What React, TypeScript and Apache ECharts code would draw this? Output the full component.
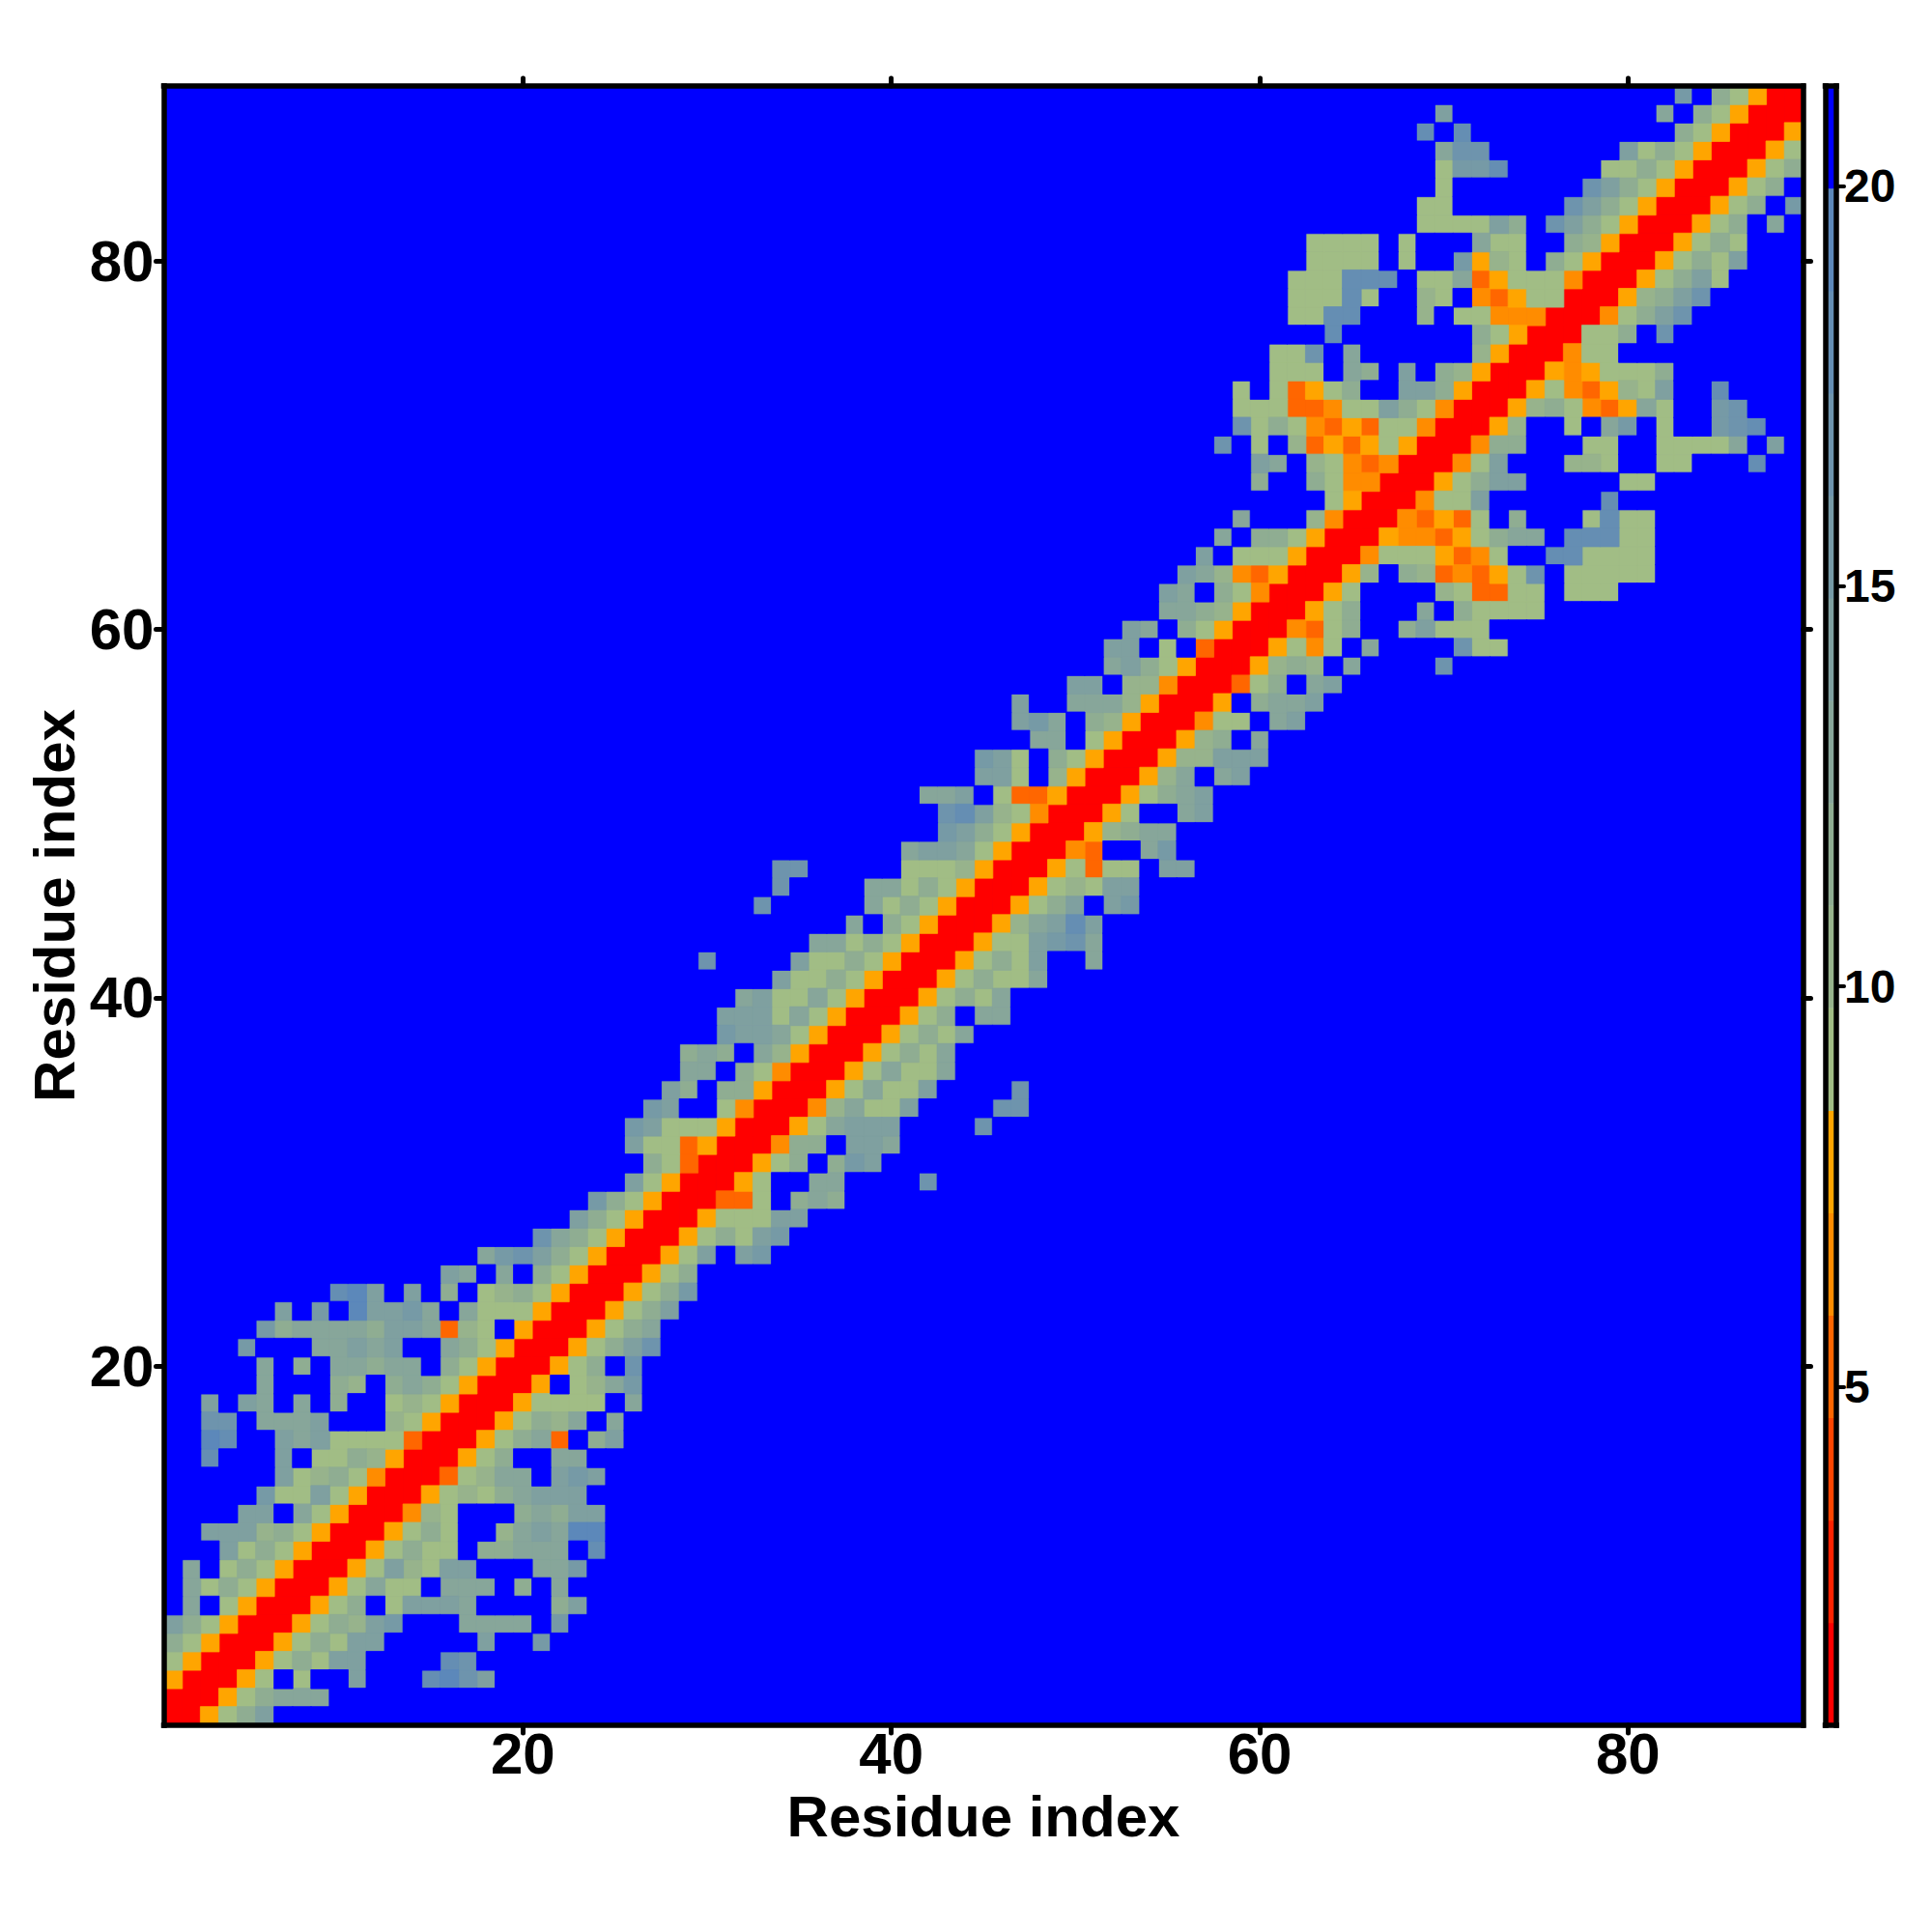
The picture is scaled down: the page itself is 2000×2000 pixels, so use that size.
import React, { useEffect, useRef } from "react";
import * as echarts from "echarts";

const FONT = "'Liberation Sans', Arial, Helvetica, sans-serif";

// Symmetric residue distance map. Row j (1-based) starts at column x = j.
const contactRows: string[] = [
  "RROace",
  "RROacddd",
  "RROa.a..e...hige",
  "RROacaee....hg",
  "RROacaee.....e..f",
  "RROacbef...dddd.f",
  "RROac.aeeed....ce",
  "RROadaa.ddd.c.d",
  "RROaebaee...ddf",
  "RROacaa.ccddd.h",
  "RROaca..bdedii",
  "RRNba...cdcee",
  "RROabacdeee",
  "RRMabdd.efe",
  "RROac..dd",
  "RROacdM.ce",
  "RROacbd.d",
  "RROaaaa.d",
  "RRO.abdf",
  "RROac.g",
  "RROaceg",
  "RROacd",
  "RROace",
  "RROacf",
  "RROac",
  "RROae.ef",
  "RROacaef",
  "RROaaaee",
  "RRMMa.cdc",
  "RROa..dd....g",
  "RROac.cfe",
  "RRNcc.eed",
  "RROadeee....g",
  "RRNbdaae....gg",
  "RROadaae....g",
  "RROadaad",
  "RROacad",
  "RROacad",
  "RROac.dd",
  "RROacad",
  "RROacaad",
  "RROacae..d",
  "RROaaefgd",
  "RRObdehe",
  "RROace.ef",
  "RROabaee",
  "RROaMaa.ee",
  "RRNM..df",
  "RRObcdd",
  "RROa..de",
  "RROacde",
  "RRObd.de",
  "RRObbeee",
  "RRObc.d",
  "RRNaa.de",
  "RRO.cdde",
  "RRMac.de",
  "RRObcb.d....g",
  "RROaNa.d....gaa",
  "RRNMac..ceaaa",
  "RROac...d.caaaa",
  "RROa....baMMaa.aaa",
  "RROb.cbMNMOag.aaaaa",
  "RRNaaaOMNa..hhaaaa",
  "RRONNMOacdd.hhhaa",
  "RRNMOMa.c...ahaa",
  "RRNaae......h",
  "RROacee.....aa",
  "RRNae...bba..aa...h",
  "RRNcc...aa..aaaad.e",
  "RROb..a.df.a..fgh",
  "RRObcaNMOda..fg",
  "RROaNMObae..h",
  "RRONOaaac",
  "RRNaa",
  "RRaac.g",
  "RRNaceg",
  "RRObceg",
  "RROacea",
  "RROacae",
  "RROaca",
  "RROac.d",
  "RROac.f",
  "RROac.",
  "RROac",
  "RROa",
  "RRO",
  "RR",
  "R",
];

const distanceByCode: Record<string, number> = {
  R: 1.4, M: 5.2, N: 6.5, O: 7.8,
  a: 9.1, b: 10.4, c: 11.6, d: 12.9, e: 14.2, f: 15.5, g: 16.8, h: 18.0, i: 19.3,
  ".": 20.6,
};

const residues: string[] = Array.from({ length: 89 }, (_, i) => String(i + 1));
const tickResidues: number[] = [20, 40, 60, 80];

const barEdges: number[] = [0.77, 2.05, 3.33, 4.61, 5.89, 7.17, 8.45, 9.73, 11.01, 12.29, 13.57, 14.85, 16.13, 17.41, 18.69, 19.97, 21.25];
const barColors: string[] = [
  "#ff0000", "#ff2200", "#ff4500", "#ff6600", "#ff8c00", "#ffa500",
  "#a1bd85", "#97b38c", "#8fad92", "#87a69a", "#7fa0a0", "#769aa6", "#6e94ad", "#658eb3", "#5c88ba",
  "#0000ff",
];
const barTicks: number[] = [5, 10, 15, 20];

const colorOf = (v: number) => {
  const i = barColors.findIndex((_, k) => v >= barEdges[k] && v < barEdges[k + 1]);
  return barColors[i];
};

const buildCells = () => {
  const size = residues.length;
  const grid: number[][] = Array.from({ length: size }, () => Array(size).fill(distanceByCode["."]));
  contactRows.forEach((row, j) => {
    row.split("").forEach((code, k) => {
      const x = j + k;
      if (x < size) {
        grid[j][x] = distanceByCode[code];
        grid[x][j] = distanceByCode[code];
      }
    });
  });
  const cells: number[][] = [];
  grid.forEach((row, y) => row.forEach((v, x) => cells.push([x, y, v])));
  return cells;
};

const isTick = (index: number) => tickResidues.includes(index + 1);

const FRAME = { show: true, onZero: false, lineStyle: { color: "#000", width: 5.5, cap: "square" as const } };
const TICK = { show: true, length: 8, alignWithLabel: true, interval: isTick, lineStyle: { color: "#000", width: 5, cap: "round" as const } };

export default function App() {
  const ref = useRef<HTMLDivElement>(null);
  useEffect(() => {
    if (!ref.current) return;
    const chart = echarts.init(ref.current, undefined, { renderer: "svg" });
    const barCats = barColors.map((_, i) => String(i));
    const barData = barColors.map((_, i) => [0, i, (barEdges[i] + barEdges[i + 1]) / 2]);
    const cells = buildCells();
    const cellSeries = Object.values(distanceByCode).map((v) => ({
      type: "heatmap", xAxisIndex: 0, yAxisIndex: 0,
      data: cells.filter((c) => c[2] === v),
      itemStyle: { borderWidth: 0.8, borderColor: colorOf(v) },
      emphasis: { disabled: true },
    }));
    chart.setOption({
      animation: false,
      backgroundColor: "#fff",
      textStyle: { fontFamily: FONT },
      grid: [
        { show: true, backgroundColor: "#0000ff", borderWidth: 0, left: 169.5, right: 133.5, top: 89, bottom: 214, outerBoundsMode: "none" },
        { left: 1889.5, width: 11.5, top: 89, bottom: 214, outerBoundsMode: "none" },
      ],
      visualMap: {
        type: "piecewise",
        show: false,
        seriesIndex: cellSeries.map((_, i) => i).concat(cellSeries.length),
        dimension: 2,
        pieces: barColors.map((color, i) => ({ gte: barEdges[i], lt: barEdges[i + 1], color })),
      },
      xAxis: [
        {
          type: "category", gridIndex: 0, position: "bottom", data: residues, z: 10,
          axisLine: FRAME, axisTick: TICK,
          axisLabel: {
            interval: isTick, margin: 6, fontSize: 60, lineHeight: 46, fontWeight: "bold", fontFamily: FONT, color: "#000",
          },
          name: "Residue index", nameLocation: "middle", nameGap: 72, nameMoveOverlap: false,
          nameTextStyle: { fontSize: 60, lineHeight: 44, fontWeight: "bold", fontFamily: FONT, color: "#000" },
          splitLine: { show: false },
        },
        {
          type: "category", gridIndex: 0, position: "top", data: residues, z: 10,
          axisLine: FRAME, axisTick: TICK, axisLabel: { show: false }, splitLine: { show: false },
        },
        {
          type: "category", gridIndex: 1, position: "bottom", data: ["0"], z: 10,
          axisLine: FRAME, axisTick: { show: false }, axisLabel: { show: false }, splitLine: { show: false },
        },
        {
          type: "category", gridIndex: 1, position: "top", data: ["0"], z: 10,
          axisLine: FRAME, axisTick: { show: false }, axisLabel: { show: false }, splitLine: { show: false },
        },
      ],
      yAxis: [
        {
          type: "category", gridIndex: 0, position: "left", data: residues, z: 10,
          axisLine: FRAME, axisTick: TICK,
          axisLabel: {
            interval: isTick, margin: 10, fontSize: 60, lineHeight: 46, fontWeight: "bold", fontFamily: FONT, color: "#000",
          },
          name: "Residue index", nameLocation: "middle", nameGap: 91, nameMoveOverlap: false,
          nameTextStyle: { fontSize: 60, lineHeight: 44, fontWeight: "bold", fontFamily: FONT, color: "#000" },
          splitLine: { show: false },
        },
        {
          type: "category", gridIndex: 0, position: "right", data: residues, z: 10,
          axisLine: FRAME, axisTick: TICK, axisLabel: { show: false }, splitLine: { show: false },
        },
        {
          type: "category", gridIndex: 1, position: "left", data: barCats, z: 10,
          axisLine: FRAME, axisTick: { show: false }, axisLabel: { show: false }, splitLine: { show: false },
        },
        {
          type: "value", gridIndex: 1, position: "right", z: 10,
          min: barEdges[0], max: barEdges[barEdges.length - 1],
          axisLine: FRAME,
          axisTick: { show: true, length: 8, customValues: barTicks, lineStyle: { color: "#000", width: 4, cap: "round" } },
          axisLabel: {
            show: true, customValues: barTicks, margin: 8, fontSize: 48, fontWeight: "bold", fontFamily: FONT, color: "#000",
          },
          splitLine: { show: false },
        },
      ],
      series: [
        ...cellSeries,
        {
          type: "heatmap", xAxisIndex: 2, yAxisIndex: 2, data: barData,
          itemStyle: { borderWidth: 0 }, emphasis: { disabled: true },
        },
      ],
    });
    return () => chart.dispose();
  }, []);
  return <div ref={ref} style={{ position: "absolute", left: 0, top: 0, width: 2000, height: 2000 }} />;
}
